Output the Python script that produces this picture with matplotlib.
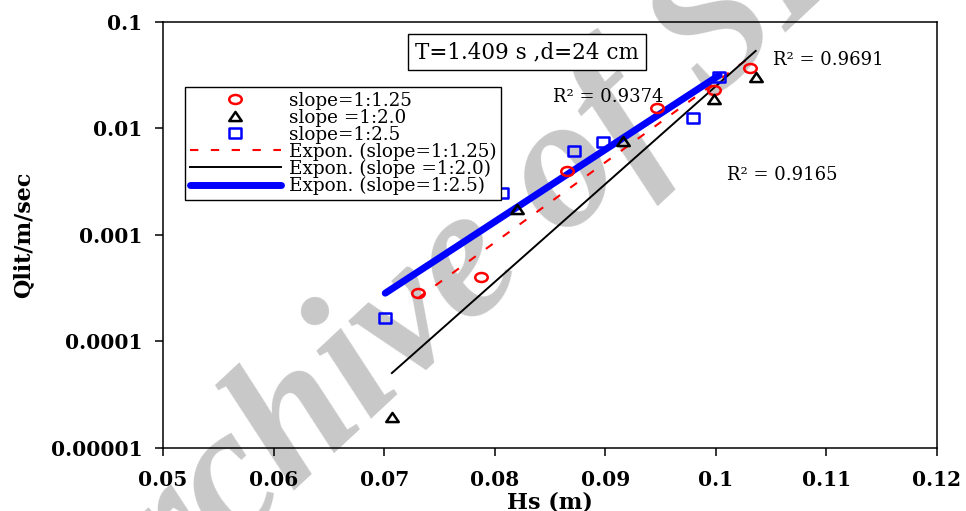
import numpy as np
import matplotlib
matplotlib.use("Agg")
import matplotlib.pyplot as plt
from matplotlib.path import Path
from matplotlib.ticker import FixedLocator, FixedFormatter

# Hs (m) and Qlit (m/sec)
hs_125 = [0.0731, 0.0788, 0.0865, 0.0947, 0.0998, 0.1031]
q_125 = [2.86e-4, 4.04e-4, 4.0e-3, 0.0156, 0.0230, 0.0370]

hs_20 = [0.0707, 0.0820, 0.0916, 0.0998, 0.1036]
q_20 = [1.95e-5, 1.75e-3, 7.6e-3, 0.0189, 0.0304]

hs_25 = [0.0701, 0.0807, 0.0872, 0.0898, 0.0979, 0.1003]
q_25 = [1.66e-4, 2.47e-3, 6.13e-3, 7.5e-3, 0.0125, 0.0306]

r2_labels = ["R\u00b2 = 0.9691", "R\u00b2 = 0.9374", "R\u00b2 = 0.9165"]
xticks = [0.05, 0.06, 0.07, 0.08, 0.09, 0.1, 0.11, 0.12]
xtick_labels = ["0.05", "0.06", "0.07", "0.08", "0.09", "0.1", "0.11", "0.12"]
yticks = [1e-5, 1e-4, 1e-3, 1e-2, 1e-1]
ytick_labels = ["0.00001", "0.0001", "0.001", "0.01", "0.1"]

plt.rcParams['font.family'] = ['DejaVu Serif']


def expon_fit(x, y):
    # excel style exponential trend line: y = a*exp(b*x)
    x = np.asarray(x)
    b, a = np.polyfit(x, np.log(y), 1)
    xs = np.linspace(x.min(), x.max(), 50)
    return xs, np.exp(a + b * xs)


# markers stretched sideways like the original
ell = Path.unit_circle()
ell = Path(ell.vertices * [1, 0.72], ell.codes)
tri = Path([(-1, -0.73), (1, -0.73), (0, 0.73), (-1, -0.73)],
           [Path.MOVETO, Path.LINETO, Path.LINETO, Path.CLOSEPOLY])
sq = Path([(-1, -0.75), (1, -0.75), (1, 0.75), (-1, 0.75), (-1, -0.75)],
          [Path.MOVETO, Path.LINETO, Path.LINETO, Path.LINETO, Path.CLOSEPOLY])

fig = plt.figure(figsize=(9.66, 5.11), dpi=100)
ax = fig.add_axes([163 / 966, 1 - 447.7 / 511, 774 / 966, 425.7 / 511])

# watermark
ax.text(0.501, 0.493, "Archive of SID", transform=fig.transFigure,
        family="Liberation Serif", fontstyle="italic", fontweight="bold",
        fontsize=135, color="#c8c8c8", rotation=43, ha="center", va="center",
        zorder=0.5, clip_on=False)

mk = dict(linestyle="none", markersize=9, markeredgewidth=1.8,
          markerfacecolor="none", zorder=3)
ax.plot(hs_125, q_125, marker=ell, markeredgecolor="#ff0000", label="slope=1:1.25", **mk)
ax.plot(hs_20, q_20, marker=tri, markeredgecolor="black", label="slope =1:2.0", **mk)
ax.plot(hs_25, q_25, marker=sq, markeredgecolor="#0000ff", label="slope=1:2.5", **mk)

xs, ys = expon_fit(hs_125, q_125)
ax.plot(xs, ys, color="#ff0000", lw=1.5, linestyle=(0, (4, 6)),
        label="Expon. (slope=1:1.25)", zorder=2)
xs, ys = expon_fit(hs_20, q_20)
ax.plot(xs, ys, color="black", lw=1.4, label="Expon. (slope =1:2.0)", zorder=2)
xs, ys = expon_fit(hs_25, q_25)
ax.plot(xs, ys, color="#0000ff", lw=5, solid_capstyle="round",
        label="Expon. (slope=1:2.5)", zorder=2.2)

ax.set_xlim(0.05, 0.12)
ax.set_yscale("log")
ax.set_ylim(1e-5, 0.1)
ax.xaxis.set_major_locator(FixedLocator(xticks))
ax.xaxis.set_major_formatter(FixedFormatter(xtick_labels))
ax.yaxis.set_major_locator(FixedLocator(yticks))
ax.yaxis.set_major_formatter(FixedFormatter(ytick_labels))
ax.yaxis.set_minor_locator(FixedLocator([]))
ax.tick_params(axis="both", direction="out", length=6, width=1.1,
               labelsize=14.5, pad=9)
ax.tick_params(axis="x", pad=10)
for lab in ax.get_xticklabels() + ax.get_yticklabels():
    lab.set_fontweight("bold")
for s in ax.spines.values():
    s.set_linewidth(1.1)
    s.set_zorder(4)

ax.set_xlabel("Hs (m)", fontsize=16, fontweight="bold", labelpad=1)
ax.set_ylabel("Qlit/m/sec", fontsize=16, fontweight="bold", labelpad=12)

ax.text(0.470, 0.9295, "T=1.409 s ,d=24 cm", transform=ax.transAxes,
        fontsize=15.5, ha="center", va="center",
        bbox=dict(boxstyle="square,pad=0.33", facecolor="white",
                  edgecolor="black", linewidth=1))
ax.text(0.788, 0.911, r2_labels[0], transform=ax.transAxes, fontsize=13, va="center")
ax.text(0.504, 0.824, r2_labels[1], transform=ax.transAxes, fontsize=13, va="center")
ax.text(0.729, 0.640, r2_labels[2], transform=ax.transAxes, fontsize=13, va="center")

leg = ax.legend(loc="upper left", bbox_to_anchor=(0.0284, 0.847), borderaxespad=0,
                fontsize=13.2, fancybox=False, framealpha=1, edgecolor="black",
                handlelength=5, handletextpad=0.4, labelspacing=-0.06,
                borderpad=0.25)
leg.get_frame().set_linewidth(1)
leg.set_zorder(5)

fig.savefig("out.png", dpi=100)
